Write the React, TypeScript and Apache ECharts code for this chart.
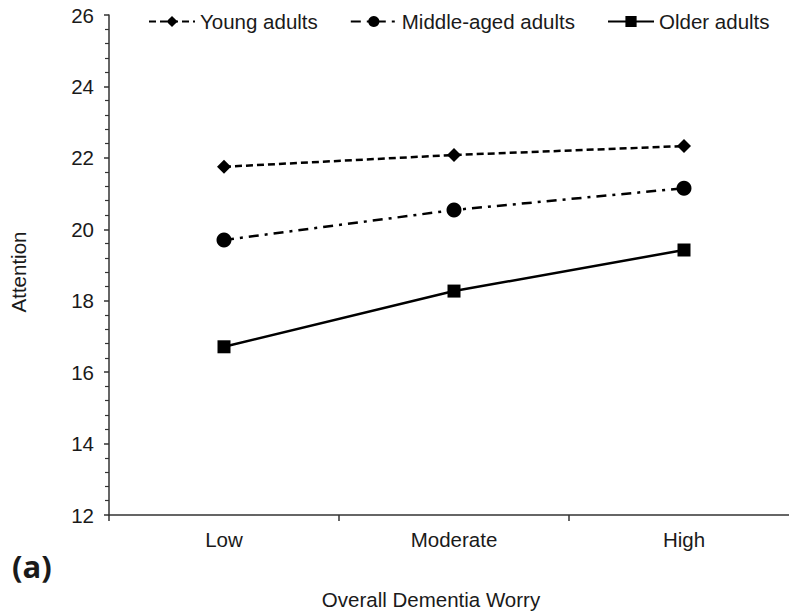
import React, { useEffect, useRef } from "react";
import * as echarts from "echarts";

const categories = ["Low", "Moderate", "High"];
const youngAdults = [21.75, 22.08, 22.33];
const middleAgedAdults = [19.7, 20.54, 21.15];
const olderAdults = [16.71, 18.27, 19.42];
const seriesNames = ["Young adults", "Middle-aged adults", "Older adults"];

const FONT = "'Liberation Sans', Arial, sans-serif";
const FS = 20.5;

export default function App() {
  const ref = useRef<HTMLDivElement>(null);
  useEffect(() => {
    if (!ref.current) return;
    const chart = echarts.init(ref.current, undefined, { renderer: "svg" });
    chart.setOption({
      animation: false,
      backgroundColor: "#fff",
      textStyle: { fontFamily: FONT, color: "#1a1a1a" },
      grid: { left: 109, right: -10, top: 15, bottom: 96, outerBoundsMode: "none", containLabel: false },
      legend: {
        top: 6,
        left: 143,
        itemWidth: 46,
        itemHeight: 14,
        itemGap: 32,
        textStyle: { fontSize: FS, color: "#1a1a1a", fontFamily: FONT },
        data: seriesNames,
      },
      xAxis: {
        type: "category",
        data: categories,
        boundaryGap: true,
        name: "Overall Dementia Worry",
        nameLocation: "middle",
        nameGap: 74,
        nameTextStyle: { fontSize: FS, color: "#1a1a1a", padding: [0, 46, 0, 0] },
        axisLine: { lineStyle: { color: "#333", width: 1.5 } },
        axisTick: { show: true, alignWithLabel: false, length: 6, lineStyle: { color: "#333", width: 1.5 } },
        axisLabel: { fontSize: FS, color: "#1a1a1a", margin: 14 },
        splitLine: { show: false },
      },
      yAxis: {
        type: "value",
        min: 12,
        max: 26,
        interval: 2,
        name: "Attention",
        nameLocation: "middle",
        nameRotate: 90,
        nameGap: 80,
        nameTextStyle: { fontSize: FS, color: "#1a1a1a", padding: [0, 14, 0, 0] },
        axisLine: { show: true, lineStyle: { color: "#333", width: 1.5 } },
        axisTick: { show: true, inside: false, length: 5, lineStyle: { color: "#333", width: 1.5 } },
        minorTick: { show: true, splitNumber: 5, length: 4, lineStyle: { color: "#333", width: 1.2 } },
        axisLabel: { fontSize: FS, color: "#1a1a1a", margin: 15 },
        splitLine: { show: false },
      },
      series: [
        {
          name: seriesNames[0],
          type: "line",
          data: youngAdults,
          symbol: "diamond",
          symbolSize: 14,
          itemStyle: { color: "#000" },
          lineStyle: { color: "#000", width: 2.5, type: [7, 4] },
        },
        {
          name: seriesNames[1],
          type: "line",
          data: middleAgedAdults,
          symbol: "circle",
          symbolSize: 15,
          itemStyle: { color: "#000" },
          lineStyle: { color: "#000", width: 2.5, type: [10, 6, 3, 6] },
        },
        {
          name: seriesNames[2],
          type: "line",
          data: olderAdults,
          symbol: "rect",
          symbolSize: 13,
          itemStyle: { color: "#000" },
          lineStyle: { color: "#000", width: 2.5, type: "solid" },
        },
      ],
      graphic: [
        {
          type: "text",
          left: 12,
          top: 550,
          style: { text: "(a)", font: "bold 31px 'Open Sans', 'Liberation Sans', sans-serif", fill: "#1a1a1a" },
        },
      ],
    });
    return () => chart.dispose();
  }, []);
  return (
    <div
      ref={ref}
      style={{ position: "fixed", left: 0, top: 0, width: 789, height: 611, background: "#fff" }}
    />
  );
}
